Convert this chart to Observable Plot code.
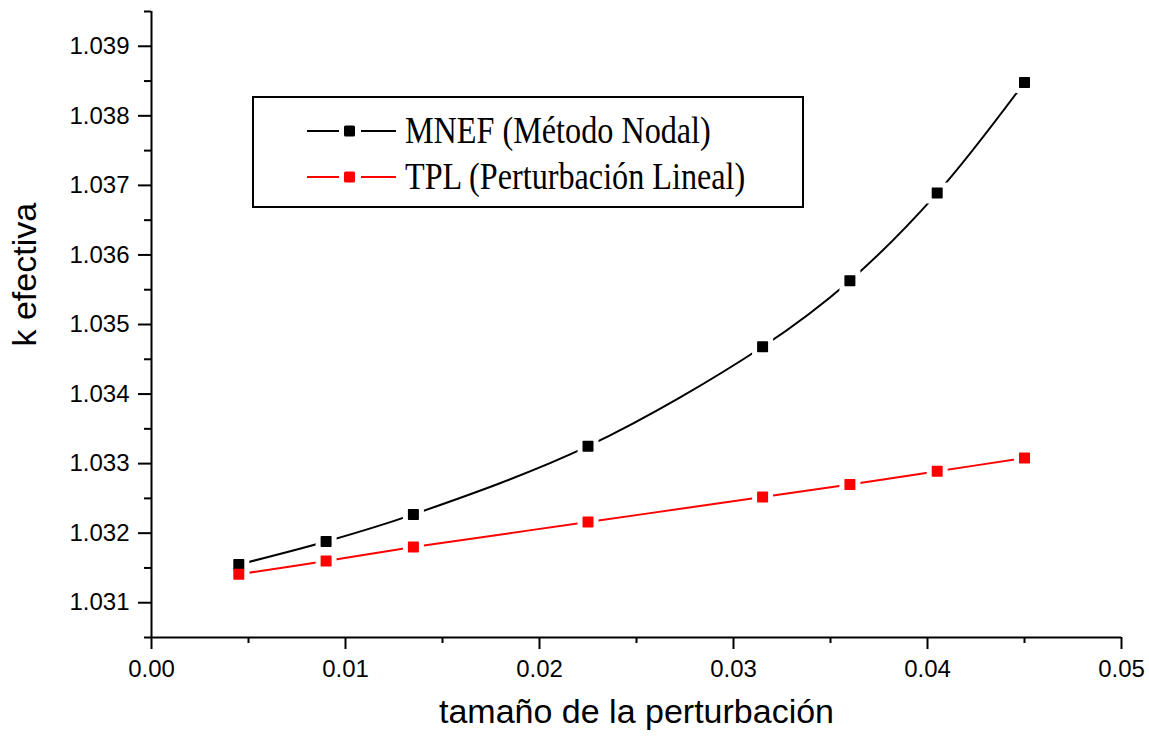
<!DOCTYPE html>
<html>
<head>
<meta charset="utf-8">
<script src="https://cdn.jsdelivr.net/npm/d3@7"></script>
<script src="https://cdn.jsdelivr.net/npm/@observablehq/plot@0.6"></script>
<style>
  html, body { margin: 0; padding: 0; background: #fff; }
  #wrap { position: relative; width: 1149px; height: 742px; overflow: hidden; }
  #legend {
    position: absolute; left: 252px; top: 96px; width: 552px; height: 112px;
    border: 2px solid #000; box-sizing: border-box; background: #fff;
    font-family: "Liberation Serif", "Times New Roman", serif; font-size: 37px; color: #000;
  }
  .row { position: absolute; left: 53px; height: 40px; display: flex; align-items: center; }
  .row svg { display: block; }
  .row span { margin-left: 8px; white-space: nowrap; line-height: 40px; display: inline-block;
    transform: scaleX(0.87); transform-origin: left center; }
</style>
</head>
<body>
<div id="wrap"></div>
<script>
// ---- data ----
const perturbation = [0.0045, 0.009, 0.0135, 0.0225, 0.0315, 0.036, 0.0405, 0.045];
const mnef = [1.03155, 1.03188, 1.03227, 1.03325, 1.03468, 1.03563, 1.03689, 1.03848];
const tpl  = [1.03141, 1.03160, 1.03180, 1.03216, 1.03252, 1.03270, 1.03289, 1.03308];
const seriesNames = ["MNEF (Método Nodal)", "TPL (Perturbación Lineal)"];
const seriesColors = ["#000000", "#ff0000"];
const xMajorTicks = [0, 0.01, 0.02, 0.03, 0.04, 0.05];
const xMinorTicks = [0.005, 0.015, 0.025, 0.035, 0.045];
const yMajorTicks = [1.031, 1.032, 1.033, 1.034, 1.035, 1.036, 1.037, 1.038, 1.039];
const yMinorTicks = [1.0305, 1.0315, 1.0325, 1.0335, 1.0345, 1.0355, 1.0365, 1.0375, 1.0385, 1.0395];
const xTitle = "tamaño de la perturbación";
const yTitle = "k efectiva";

const mnefRows = perturbation.map((x, i) => ({x, y: mnef[i]}));
const tplRows = perturbation.map((x, i) => ({x, y: tpl[i]}));
const allRows = mnefRows.concat(tplRows);

const sq = side => side / Math.sqrt(Math.PI);

const chart = Plot.plot({
  width: 1149,
  height: 742,
  marginLeft: 151,
  marginRight: 28,
  marginTop: 11,
  marginBottom: 105,
  x: {domain: [0, 0.05]},
  y: {domain: [1.0305, 1.0395]},
  style: {fontFamily: "'Liberation Sans', Arial, sans-serif", color: "#000", background: "#fff", overflow: "visible"},
  marks: [
    Plot.axisX({ticks: xMajorTicks, tickSize: 12, tickPadding: 10, fontSize: 24, strokeWidth: 2,
      tickFormat: d3.format(".2f"), label: null}),
    Plot.axisX({ticks: xMinorTicks, tickSize: 6, strokeWidth: 2, tickFormat: () => "", label: null}),
    Plot.axisY({ticks: yMajorTicks, tickSize: 13, tickPadding: 9, fontSize: 24, strokeWidth: 2,
      tickFormat: d3.format(".3f"), label: null}),
    Plot.axisY({ticks: yMinorTicks, tickSize: 7, strokeWidth: 2, tickFormat: () => "", label: null}),
    Plot.ruleX([0], {strokeWidth: 2}),
    Plot.ruleY([1.0305], {strokeWidth: 2}),
    Plot.line(mnefRows, {x: "x", y: "y", stroke: seriesColors[0], strokeWidth: 2, curve: "catmull-rom"}),
    Plot.line(tplRows, {x: "x", y: "y", stroke: seriesColors[1], strokeWidth: 2, curve: "catmull-rom"}),
    Plot.dot(allRows, {x: "x", y: "y", symbol: "square", r: sq(21), fill: "#fff", stroke: "none"}),
    Plot.dot(mnefRows, {x: "x", y: "y", symbol: "square", r: sq(9.5), fill: seriesColors[0], stroke: seriesColors[0], strokeWidth: 1.5, strokeLinejoin: "round"}),
    Plot.dot(tplRows, {x: "x", y: "y", symbol: "square", r: sq(9.5), fill: seriesColors[1], stroke: seriesColors[1], strokeWidth: 1.5, strokeLinejoin: "round"}),
    Plot.text([xTitle], {frameAnchor: "bottom", dy: 85, fontSize: 34, text: d => d}),
    Plot.text([yTitle], {frameAnchor: "left", dx: -126, dy: 22, rotate: -90, fontSize: 34, text: d => d})
  ]
});

const wrap = document.getElementById("wrap");
wrap.appendChild(chart);

// legend
const legend = document.createElement("div");
legend.id = "legend";
seriesNames.forEach((name, i) => {
  const row = document.createElement("div");
  row.className = "row";
  row.style.top = (i === 0 ? 13 : 59) + "px";
  const c = seriesColors[i];
  row.innerHTML = `<svg width="90" height="14"><line x1="0" x2="32" y1="7" y2="7" stroke="${c}" stroke-width="2"/>` +
    `<rect x="37" y="1.5" width="11" height="11" rx="1.5" fill="${c}"/>` +
    `<line x1="54" x2="89" y1="7" y2="7" stroke="${c}" stroke-width="2"/></svg><span>${name}</span>`;
  legend.appendChild(row);
});
wrap.appendChild(legend);
</script>
</body>
</html>
